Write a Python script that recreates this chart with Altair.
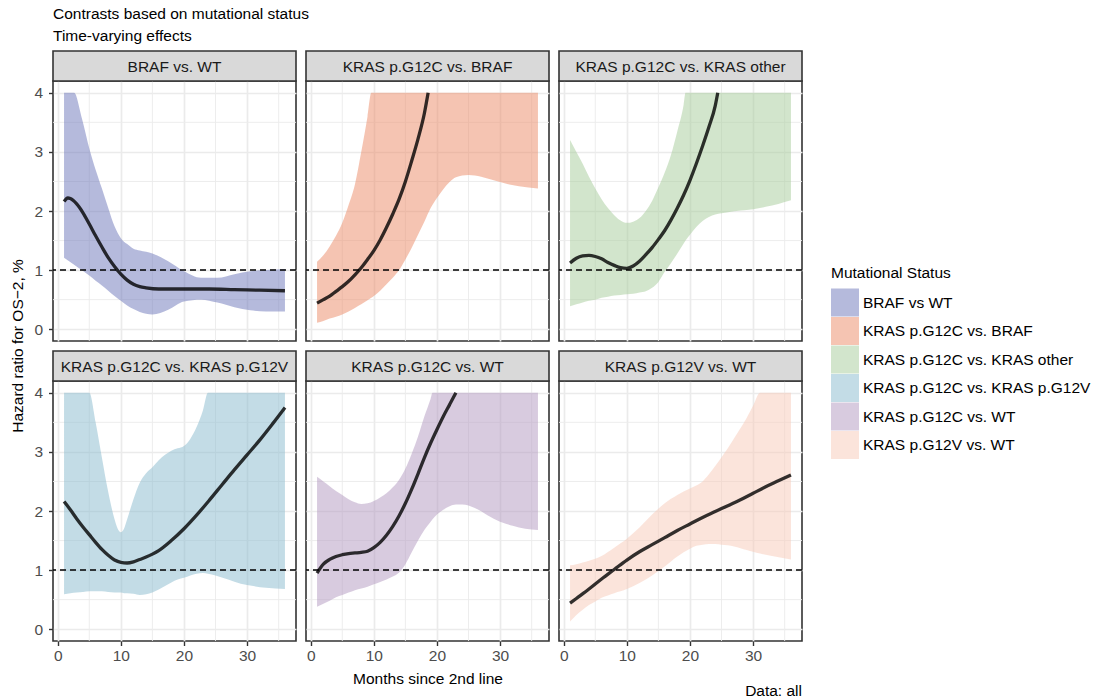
import altair as alt
import pandas as pd

FONT = "Liberation Sans"
FS = 15.5

# ---------------- categories / labels ----------------
groups = ["BRAF vs WT", "KRAS p.G12C vs. BRAF", "KRAS p.G12C vs. KRAS other",
          "KRAS p.G12C vs. KRAS p.G12V", "KRAS p.G12C vs. WT", "KRAS p.G12V vs. WT"]
strip_labels = ["BRAF vs. WT", "KRAS p.G12C vs. BRAF", "KRAS p.G12C vs. KRAS other",
                "KRAS p.G12C vs. KRAS p.G12V", "KRAS p.G12C vs. WT", "KRAS p.G12V vs. WT"]
ribbon_colors = ["#6B75B9", "#EB8965", "#A5CB99", "#87B9CD", "#B197BF", "#F7C9B7"]

x_major = [0, 10, 20, 30]
x_minor = [5, 15, 25, 35]
y_major = [0, 1, 2, 3, 4]
y_minor = [0.5, 1.5, 2.5, 3.5]

# ---------------- BRAF vs WT ----------------
p1_rib_t = [1, 2.6, 3.8, 5.1, 6, 7, 8, 9, 10, 11, 12, 13, 15, 17.5, 20, 22.7, 25.3, 28, 30.5, 33, 36]
p1_rib_hi = [4, 4, 3.58, 3.02, 2.7, 2.38, 2.05, 1.74, 1.54, 1.44, 1.36, 1.33, 1.28, 1.15, 0.98, 0.87, 0.87, 0.93, 0.98, 1.0, 1.02]
p1_rib_lo = [1.21, 1.09, 1.0, 0.9, 0.82, 0.74, 0.65, 0.56, 0.48, 0.40, 0.34, 0.29, 0.25, 0.33, 0.47, 0.5, 0.45, 0.37, 0.32, 0.3, 0.3]
p1_line_t = [1, 1.6, 2, 3, 4, 5, 6, 7, 8, 9, 10, 11, 12, 13, 14, 16, 20, 24, 28, 32, 36]
p1_line_v = [2.16, 2.22, 2.21, 2.12, 1.97, 1.78, 1.58, 1.39, 1.21, 1.06, 0.93, 0.83, 0.76, 0.72, 0.70, 0.68, 0.68, 0.68, 0.67, 0.66, 0.65]

# ---------------- KRAS p.G12C vs. BRAF ----------------
p2_rib_t = [1, 2, 3, 4, 5, 6, 7, 8, 9, 9.6, 10, 11, 12, 13, 14, 15, 16, 17, 18, 19, 20, 21, 22, 23, 25, 27, 29, 31, 33, 36]
p2_rib_hi = [1.14, 1.25, 1.4, 1.58, 1.8, 2.1, 2.45, 3.0, 3.6, 4.0, 4, 4, 4, 4, 4, 4, 4, 4, 4, 4, 4, 4, 4, 4, 4, 4, 4, 4, 4, 4]
p2_rib_lo = [0.11, 0.14, 0.18, 0.21, 0.25, 0.3, 0.36, 0.42, 0.49, 0.53, 0.56, 0.65, 0.76, 0.87, 1.0, 1.18, 1.38, 1.6, 1.82, 2.05, 2.22, 2.37, 2.49, 2.57, 2.61, 2.58, 2.52, 2.46, 2.42, 2.38]
p2_line_t = [1, 2, 3, 4, 5, 6, 7, 8, 9, 10, 11, 12, 13, 14, 15, 16, 17, 18, 18.6]
p2_line_v = [0.44, 0.5, 0.56, 0.64, 0.72, 0.81, 0.92, 1.04, 1.18, 1.33, 1.51, 1.72, 1.95, 2.2, 2.5, 2.85, 3.22, 3.65, 4.0]

# ---------------- KRAS p.G12C vs. KRAS other ----------------
p3_rib_t = [1, 2, 3, 4, 5, 6, 7, 8, 9, 10, 11, 12, 13, 14, 15, 16, 17, 18, 19, 19.3, 20, 21, 22, 23, 24, 26, 28, 30, 32, 34, 36]
p3_rib_hi = [3.2, 3.0, 2.8, 2.58, 2.38, 2.2, 2.05, 1.93, 1.84, 1.8, 1.82, 1.88, 2.0, 2.17, 2.4, 2.65, 2.95, 3.35, 3.8, 4.0, 4, 4, 4, 4, 4, 4, 4, 4, 4, 4, 4]
p3_rib_lo = [0.39, 0.42, 0.45, 0.48, 0.5, 0.53, 0.55, 0.57, 0.58, 0.59, 0.6, 0.62, 0.64, 0.7, 0.8, 0.97, 1.12, 1.28, 1.45, 1.5, 1.6, 1.73, 1.83, 1.9, 1.94, 1.98, 2.01, 2.03, 2.07, 2.12, 2.18]
p3_line_t = [1, 2, 3, 4, 5, 6, 7, 8, 9, 10, 11, 12, 13, 14, 15, 16, 17, 18, 19, 20, 21, 22, 23, 24, 24.4]
p3_line_v = [1.12, 1.2, 1.24, 1.25, 1.23, 1.19, 1.13, 1.08, 1.04, 1.03, 1.07, 1.15, 1.26, 1.38, 1.52, 1.67, 1.85, 2.05, 2.27, 2.52, 2.8, 3.1, 3.42, 3.78, 4.0]

# ---------------- KRAS p.G12C vs. KRAS p.G12V ----------------
p4_rib_t = [1, 2, 3, 4, 5, 6, 7, 8, 9, 9.5, 10, 10.5, 11, 12, 13, 14, 15, 16, 17, 18, 19, 20, 21, 22, 23, 23.8, 25, 27, 29, 31, 33, 36]
p4_rib_hi = [4, 4, 4, 4, 4, 3.5, 2.9, 2.32, 1.86, 1.7, 1.64, 1.7, 1.86, 2.2, 2.48, 2.64, 2.74, 2.86, 2.95, 3.02, 3.06, 3.1, 3.22, 3.42, 3.7, 4.0, 4, 4, 4, 4, 4, 4]
p4_rib_lo = [0.59, 0.61, 0.62, 0.63, 0.64, 0.64, 0.64, 0.63, 0.62, 0.62, 0.62, 0.61, 0.61, 0.6, 0.58, 0.59, 0.62, 0.67, 0.73, 0.79, 0.84, 0.87, 0.91, 0.94, 0.95, 0.94, 0.91, 0.84, 0.77, 0.73, 0.7, 0.68]
p4_line_t = [1, 2, 3, 4, 5, 6, 7, 8, 9, 10, 11, 12, 13, 14, 15, 16, 18, 20, 22, 24, 26, 28, 30, 32, 34, 36]
p4_line_v = [2.16, 2.02, 1.87, 1.73, 1.6, 1.47, 1.35, 1.25, 1.17, 1.13, 1.12, 1.14, 1.18, 1.22, 1.27, 1.33, 1.5, 1.7, 1.93, 2.18, 2.44, 2.7, 2.95, 3.2, 3.47, 3.75]

# ---------------- KRAS p.G12C vs. WT ----------------
p5_rib_t = [1, 2, 3, 4, 5, 6, 7, 8, 9, 10, 11, 12, 13, 14, 15, 16, 17, 18, 19, 19.3, 20, 21, 22, 23, 24, 26, 28, 30, 32, 34, 36]
p5_rib_hi = [2.58, 2.5, 2.42, 2.34, 2.27, 2.2, 2.15, 2.12, 2.13, 2.17, 2.23, 2.3, 2.4, 2.53, 2.72, 2.97, 3.26, 3.6, 3.9, 4.0, 4, 4, 4, 4, 4, 4, 4, 4, 4, 4, 4]
p5_rib_lo = [0.38, 0.43, 0.48, 0.54, 0.58, 0.62, 0.66, 0.69, 0.72, 0.76, 0.8, 0.84, 0.89, 0.96, 1.1, 1.3, 1.5, 1.68, 1.82, 1.86, 1.94, 2.02, 2.08, 2.11, 2.11, 2.05, 1.93, 1.82, 1.75, 1.7, 1.68]
p5_line_t = [1, 2, 3, 4, 5, 6, 7, 8, 9, 10, 11, 12, 13, 14, 15, 16, 17, 18, 19, 20, 21, 22, 23]
p5_line_v = [0.95, 1.1, 1.18, 1.23, 1.26, 1.28, 1.29, 1.3, 1.32, 1.38, 1.47, 1.59, 1.74, 1.92, 2.13, 2.37, 2.63, 2.9, 3.15, 3.38, 3.6, 3.8, 4.0]

# ---------------- KRAS p.G12V vs. WT ----------------
p6_rib_t = [1, 2, 3, 4, 5, 6, 8, 10, 12, 14, 16, 18, 20, 21, 22, 23, 24, 25, 26, 27, 28, 29, 30, 31.1, 33, 36]
p6_rib_hi = [1.08, 1.1, 1.13, 1.16, 1.19, 1.24, 1.38, 1.53, 1.72, 1.94, 2.13, 2.27, 2.38, 2.43, 2.5, 2.62, 2.76, 2.91, 3.06, 3.23, 3.4, 3.58, 3.78, 4.0, 4, 4]
p6_rib_lo = [0.13, 0.24, 0.33, 0.41, 0.47, 0.53, 0.61, 0.68, 0.78, 0.91, 1.06, 1.23, 1.36, 1.41, 1.43, 1.44, 1.44, 1.43, 1.42, 1.4, 1.37, 1.34, 1.31, 1.28, 1.24, 1.18]
p6_line_t = [1, 2, 4, 6, 8, 10, 12, 14, 16, 18, 20, 22, 24, 26, 28, 30, 32, 34, 36]
p6_line_v = [0.44, 0.52, 0.68, 0.85, 1.01, 1.17, 1.31, 1.43, 1.55, 1.67, 1.78, 1.89, 1.99, 2.09, 2.19, 2.3, 2.41, 2.51, 2.61]

panel_data = [
    (p1_rib_t, p1_rib_lo, p1_rib_hi, p1_line_t, p1_line_v),
    (p2_rib_t, p2_rib_lo, p2_rib_hi, p2_line_t, p2_line_v),
    (p3_rib_t, p3_rib_lo, p3_rib_hi, p3_line_t, p3_line_v),
    (p4_rib_t, p4_rib_lo, p4_rib_hi, p4_line_t, p4_line_v),
    (p5_rib_t, p5_rib_lo, p5_rib_hi, p5_line_t, p5_line_v),
    (p6_rib_t, p6_rib_lo, p6_rib_hi, p6_line_t, p6_line_v),
]

title_text = "Contrasts based on mutational status"
subtitle_text = "Time-varying effects"
y_title = "Hazard ratio for OS\u22122, %"
x_title = "Months since 2nd line"
caption = "Data: all"
legend_title = "Mutational Status"

# ---------------- layout ----------------
W, H, STRIP = 243, 260, 30
XDOM = [-0.75, 37.75]
YDOM = [-0.2, 4.2]
GRID = "#EBEBEB"
BORDER = "#333333"

legend = alt.Legend(
    title=legend_title, orient="none", legendX=778, legendY=185,
    symbolType="square", symbolSize=784, symbolStrokeWidth=0, symbolOpacity=0.5,
    labelFont=FONT, labelFontSize=FS, labelColor="black", labelLimit=400, labelOffset=4,
    titleFont=FONT, titleFontSize=FS, titleFontWeight="normal", titleColor="black",
    titlePadding=7, rowPadding=0.5, padding=0,
)
color_scale = alt.Scale(domain=groups, range=ribbon_colors)


def make_panel(i):
    rib_t, lo, hi, lt, lv = panel_data[i]
    row, col = divmod(i, 3)
    show_x = row == 1
    show_y = col == 0
    xs = alt.Scale(domain=XDOM, nice=False, zero=False)
    ys = alt.Scale(domain=YDOM, nice=False, zero=False)
    xaxis_kw = dict(values=x_major, grid=True, gridColor=GRID, gridWidth=1.7, domain=False,
                    labels=show_x, ticks=show_x, tickColor=BORDER, tickSize=4.5, tickWidth=1.4,
                    labelFont=FONT, labelFontSize=FS, labelColor="#4D4D4D", labelPadding=3,
                    titleFont=FONT, titleFontSize=FS, titleFontWeight="normal", titleColor="black",
                    titlePadding=7)
    if i == 4:
        xaxis = alt.Axis(title=x_title, **xaxis_kw)
    else:
        xaxis = alt.Axis(title=None, **xaxis_kw)
    yaxis = alt.Axis(values=y_major, grid=True, gridColor=GRID, gridWidth=1.7, domain=False,
                     labels=show_y, ticks=show_y, tickColor=BORDER, tickSize=4.5, tickWidth=1.4,
                     labelFont=FONT, labelFontSize=FS, labelColor="#4D4D4D", labelPadding=6,
                     title=None)

    X = lambda f: alt.X(f, scale=xs, axis=xaxis)
    Y = lambda f: alt.Y(f, scale=ys, axis=yaxis)

    rib = pd.DataFrame({"t": rib_t, "lo": lo, "hi": hi, "group": groups[i]})
    ln = pd.DataFrame({"t": lt, "v": lv})

    minor_x = alt.Chart(pd.DataFrame({"t": x_minor})).mark_rule(
        color=GRID, strokeWidth=0.9).encode(x=X("t:Q"))
    minor_y = alt.Chart(pd.DataFrame({"v": y_minor})).mark_rule(
        color=GRID, strokeWidth=0.9).encode(y=Y("v:Q"))
    area = alt.Chart(rib).mark_area(opacity=0.5, interpolate="monotone").encode(
        x=X("t:Q"), y=Y("lo:Q"), y2="hi:Q",
        color=alt.Color("group:N", scale=color_scale, legend=legend))
    ref = alt.Chart(pd.DataFrame({"v": [1]})).mark_rule(
        color="black", strokeWidth=1.5, strokeDash=[6, 4]).encode(y=Y("v:Q"))
    line = alt.Chart(ln).mark_line(color="black", opacity=0.8, strokeWidth=3.3,
                                   interpolate="monotone").encode(x=X("t:Q"), y=Y("v:Q"))
    sdf = pd.DataFrame({"s": [strip_labels[i]]})
    strip_rect = alt.Chart(sdf).mark_rect(fill="#D9D9D9", stroke=BORDER, strokeWidth=1.6).encode(
        x=alt.value(0), x2=alt.value(W), y=alt.value(-STRIP), y2=alt.value(0))
    strip_text = alt.Chart(sdf).mark_text(font=FONT, fontSize=FS, color="#1A1A1A").encode(
        x=alt.value(W / 2), y=alt.value(-STRIP / 2 + 0.5), text="s:N")

    layers = [minor_x, minor_y, area, ref, line, strip_rect, strip_text]
    if i == 0:
        layers.append(alt.Chart(pd.DataFrame({"s": [y_title]})).mark_text(
            font=FONT, fontSize=FS, color="black", angle=270).encode(
            x=alt.value(-35), y=alt.value(265), text="s:N"))
    if i == 5:
        layers.append(alt.Chart(pd.DataFrame({"s": [caption]})).mark_text(
            font=FONT, fontSize=FS, color="black", align="right", baseline="alphabetic").encode(
            x=alt.value(W), y=alt.value(315), text="s:N"))
    return alt.layer(*layers).properties(
        width=W, height=H,
        view=alt.ViewBackground(fill="white", stroke=BORDER, strokeWidth=1.6))


panels = [make_panel(i) for i in range(6)]

chart = alt.concat(
    *panels, columns=3, spacing=alt.RowColnumber(row=40, column=10), bounds="flush"
).properties(
    title=alt.TitleParams(text=title_text, subtitle=subtitle_text, anchor="start", frame="group",
                          font=FONT, fontSize=FS, fontWeight="normal", color="black",
                          subtitleFont=FONT, subtitleFontSize=FS, subtitleColor="black",
                          subtitlePadding=6, offset=5),
    padding={"left": 10, "top": 7, "right": 5, "bottom": 2},
).resolve_scale(color="shared").configure_view(stroke=BORDER)

chart.save("out.html", embed_options={"renderer": "svg", "actions": False})
